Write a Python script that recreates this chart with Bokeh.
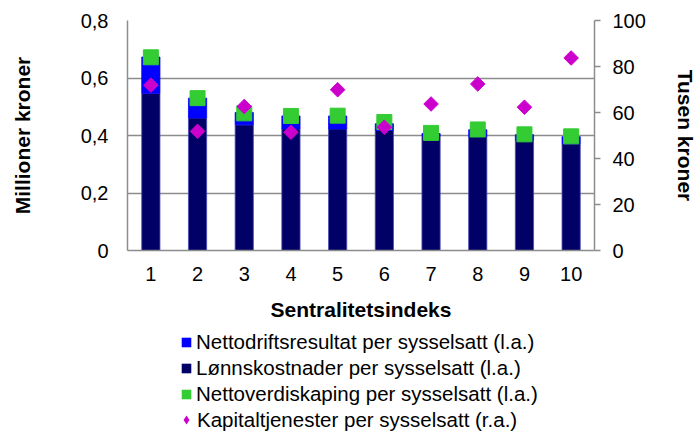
import math
from bokeh.plotting import figure
from bokeh.layouts import column
from bokeh.models import (ColumnDataSource, Range1d, LinearAxis, FixedTicker, Grid,
                          CustomJSTickFormatter, Legend, LegendItem)
from bokeh.embed import file_html
from bokeh.resources import INLINE

# ---- data ----
sentralitet = [1, 2, 3, 4, 5, 6, 7, 8, 9, 10]
lonnskostnader = [0.547, 0.461, 0.437, 0.423, 0.423, 0.418, 0.398, 0.396, 0.384, 0.371]
nettodriftsresultat = [0.126, 0.069, 0.043, 0.045, 0.045, 0.023, 0.009, 0.024, 0.019, 0.025]
nettoverdiskaping = [0.672, 0.530, 0.477, 0.468, 0.469, 0.447, 0.409, 0.421, 0.404, 0.397]
kapitaltjenester = [71.9, 51.8, 62.6, 51.4, 69.9, 53.6, 63.7, 72.4, 62.3, 83.7]

left_ticks = [0, 0.2, 0.4, 0.6, 0.8]
right_ticks = [0, 20, 40, 60, 80, 100]

labels = ["Nettodriftsresultat per sysselsatt (l.a.)",
          "Lønnskostnader per sysselsatt (l.a.)",
          "Nettoverdiskaping per sysselsatt (l.a.)",
          "Kapitaltjenester per sysselsatt (r.a.)"]

DARK = "#000066"
BLUE = "#0000FF"
GREEN = "#33CC33"
MAGENTA = "#CC00CC"
GRID = "#8C8C8C"
FONT = "Liberation Sans"

W = 700
H1 = 325
H2 = 108

src = ColumnDataSource(dict(x=sentralitet, lonn=lonnskostnader, netto=nettodriftsresultat,
                            verdi=nettoverdiskaping, kap=kapitaltjenester))

p = figure(width=W, height=H1, x_range=Range1d(0.5, 10.5), y_range=Range1d(0, 0.8),
           output_backend="svg", toolbar_location=None,
           min_border_left=127, min_border_right=106, min_border_top=20, min_border_bottom=75)
p.extra_y_ranges = {"right": Range1d(0, 100)}
p.outline_line_color = None

bars = p.vbar_stack(["lonn", "netto"], x="x", width=0.39, source=src,
                    fill_color=[DARK, BLUE], line_color=["#4a4ab8", BLUE], line_width=0.8)
p.scatter(x="x", y="verdi", source=src, marker="square", size=15,
          fill_color=GREEN, line_color=GREEN)
p.scatter(x="x", y="kap", source=src, marker="square", angle=math.pi / 4, size=10.3,
          fill_color=MAGENTA, line_color=MAGENTA, y_range_name="right")

# x axis
xa = p.xaxis[0]
xa.ticker = FixedTicker(ticks=sentralitet)
xa.axis_label = "Sentralitetsindeks"
xa.axis_label_text_font = FONT
xa.axis_label_text_font_size = "21px"
xa.axis_label_text_font_style = "bold"
xa.axis_label_text_color = "black"
xa.axis_label_standoff = 14
xa.major_label_text_font = FONT
xa.major_label_text_font_size = "20px"
xa.major_label_text_color = "black"
xa.major_label_standoff = 16
xa.major_tick_out = 0
xa.major_tick_in = 0
xa.minor_tick_out = 0
xa.minor_tick_in = 0
xa.axis_line_color = GRID
xa.axis_line_width = 1.5

# left axis
ya = p.yaxis[0]
ya.ticker = FixedTicker(ticks=left_ticks)
ya.formatter = CustomJSTickFormatter(code="return tick === 0 ? '0' : tick.toFixed(1).replace('.', ',');")
ya.axis_label = "Millioner kroner"
ya.axis_label_text_font = FONT
ya.axis_label_text_font_size = "21px"
ya.axis_label_text_font_style = "bold"
ya.axis_label_text_color = "black"
ya.axis_label_standoff = 44
ya.major_label_text_font = FONT
ya.major_label_text_font_size = "20px"
ya.major_label_text_color = "black"
ya.major_label_standoff = 19
ya.major_tick_out = 0
ya.major_tick_in = 0
ya.minor_tick_out = 0
ya.minor_tick_in = 0
ya.axis_line_color = GRID
ya.axis_line_width = 1.5

# right axis
ra = LinearAxis(y_range_name="right", ticker=FixedTicker(ticks=right_ticks))
ra.axis_label = "Tusen kroner"
ra.axis_label_text_font = FONT
ra.axis_label_text_font_size = "21px"
ra.axis_label_text_font_style = "bold"
ra.axis_label_text_color = "black"
ra.axis_label_standoff = 25
ra.major_label_text_font = FONT
ra.major_label_text_font_size = "20px"
ra.major_label_text_color = "black"
ra.major_label_standoff = 12
ra.major_tick_out = 6
ra.major_tick_in = 0
ra.minor_tick_out = 0
ra.minor_tick_in = 0
ra.major_tick_line_color = GRID
ra.major_tick_line_width = 1.5
ra.axis_line_color = GRID
ra.axis_line_width = 1.5
p.add_layout(ra, "right")

# grid
p.xgrid.visible = False
p.ygrid.ticker = FixedTicker(ticks=left_ticks)
p.ygrid.grid_line_color = GRID
p.ygrid.grid_line_width = 1.5

# ---- legend panel (separate figure below the chart) ----
lg = figure(width=W, height=H2, x_range=Range1d(0, 1), y_range=Range1d(0, 1),
            output_backend="svg", toolbar_location=None,
            x_axis_location=None, y_axis_location=None, title_location=None,
            min_border_left=0, min_border_right=0, min_border_top=0, min_border_bottom=0)
lg.outline_line_color = None
for r in list(lg.center) + list(lg.renderers):
    if isinstance(r, Grid):
        r.visible = False
        r.grid_line_color = None
lg.center = [r for r in lg.center if not isinstance(r, Grid)]

# legend swatch renderers: zero-size glyphs, they only lend their colours to the legend
lx_blue = lg.vbar(x=[0.5], top=[0.5], bottom=[0.5], width=0, fill_color=BLUE, line_color=None)
lx_dark = lg.vbar(x=[0.5], top=[0.5], bottom=[0.5], width=0, fill_color=DARK, line_color=None)
lx_green = lg.vbar(x=[0.5], top=[0.5], bottom=[0.5], width=0, fill_color=GREEN, line_color=None)
lx_kap = lg.scatter(x=[0.5], y=[0.5], marker="diamond", size=0,
                    fill_color=MAGENTA, line_color=None)

common = dict(padding=0, margin=0, border_line_color=None, background_fill_alpha=0,
              label_text_font=FONT, label_text_font_size="20.5px", label_text_color="black")
legA = Legend(items=[LegendItem(label=labels[0], renderers=[lx_blue]),
                     LegendItem(label=labels[1], renderers=[lx_dark]),
                     LegendItem(label=labels[2], renderers=[lx_green])],
              location=(53, 27), glyph_width=12, glyph_height=12, label_height=22,
              spacing=2, label_standoff=4, **common)
legB = Legend(items=[LegendItem(label=labels[3], renderers=[lx_kap])],
              location=(48, 1), glyph_width=22, glyph_height=25, label_height=18,
              spacing=0, label_standoff=0, **common)
lg.add_layout(legA)
lg.add_layout(legB)

layout = column(p, lg, spacing=0)
open("out.html", "w").write(file_html(layout, INLINE))
